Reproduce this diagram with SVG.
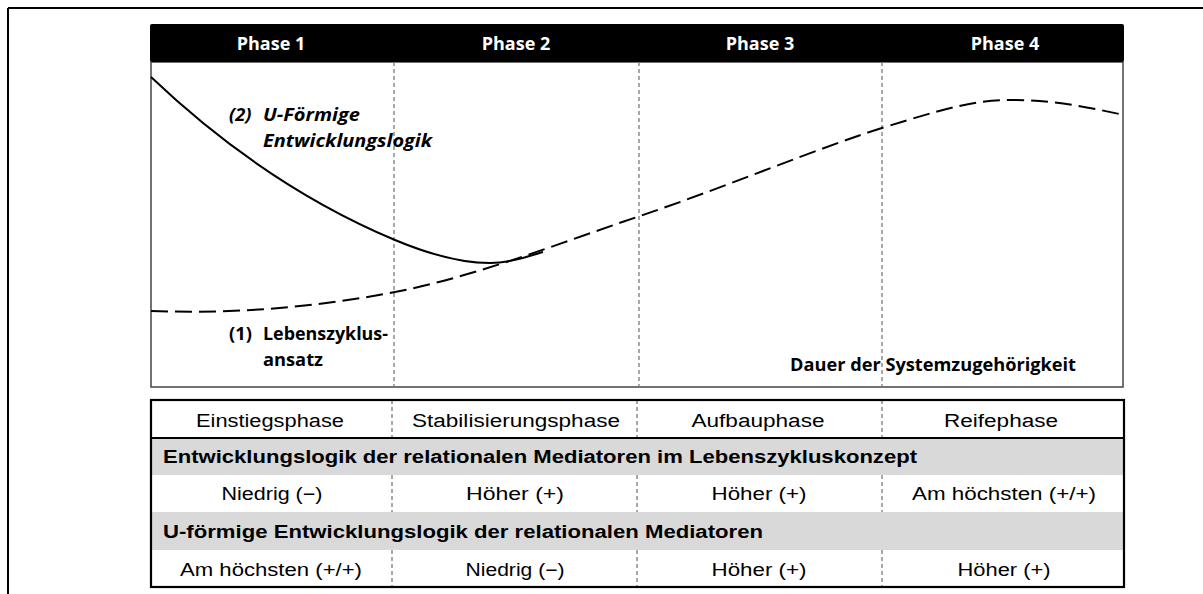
<svg xmlns="http://www.w3.org/2000/svg" width="1203" height="594" viewBox="0 0 1203 594">
<style>
.hdr{font-family:"Open Sans","Liberation Sans",sans-serif;font-weight:bold;font-size:18px;fill:#fff;text-anchor:middle}
.lbl{font-family:"Open Sans","Liberation Sans",sans-serif;font-weight:bold;font-size:18.3px;fill:#000}
.it{font-style:italic}
.cell{font-family:"Liberation Sans",Arial,sans-serif;font-size:18px;fill:#000;text-anchor:middle}
.sec{font-family:"Liberation Sans",Arial,sans-serif;font-size:18px;font-weight:bold;fill:#000}
.div{stroke:#7a7a7a;stroke-width:1.3;stroke-dasharray:4 3;fill:none}
.gray{fill:#d9d9d9}
</style>
<rect width="1203" height="594" fill="#fff"/>
<g id="frame">
<path d="M8,8 H1203 M8,8 V594" stroke="#000" stroke-width="2" fill="none"/>
</g>
<g id="chart">
<rect x="151" y="62" width="972" height="325" fill="#fff" stroke="#444" stroke-width="1.5"/>
<line class="div" x1="394" y1="62" x2="394" y2="387"/>
<line class="div" x1="639" y1="62" x2="639" y2="387"/>
<line class="div" x1="882" y1="62" x2="882" y2="387"/>
</g>
<g id="header">
<rect x="150" y="24" width="974" height="38" rx="2" fill="#000"/>
<g id="phase1"><text class="hdr" x="271" y="50">Phase 1</text></g>
<g id="phase2"><text class="hdr" x="516" y="50">Phase 2</text></g>
<g id="phase3"><text class="hdr" x="760" y="50">Phase 3</text></g>
<g id="phase4"><text class="hdr" x="1005" y="50">Phase 4</text></g>
</g>
<g id="curves" fill="none" stroke="#000" stroke-width="2">
<path id="curve-u" d="M151,77 C232,154 314,206 395,240 C427,253.4 458,263 490,263 C508,263 525,257.5 543,252"/>
<path id="curve-life" stroke-dasharray="17 7" d="M151,311 C232,314 313.5,307.8 395,292 C476.5,276.2 558.8,243.3 640,216 C721.2,188.7 819.8,147.3 882,128 C944.2,108.7 972.7,100 1013,100 C1053,100 1087,107 1124,115"/>
</g>
<g id="label-u">
<text class="lbl it" x="229" y="121">(2)</text>
<text class="lbl it" x="263" y="121" textLength="97" lengthAdjust="spacingAndGlyphs">U-Förmige</text>
<text class="lbl it" x="263" y="147" textLength="169" lengthAdjust="spacingAndGlyphs">Entwicklungslogik</text>
</g>
<g id="label-life">
<text class="lbl" x="229" y="340">(1)</text>
<text class="lbl" x="263" y="340" textLength="125" lengthAdjust="spacingAndGlyphs">Lebenszyklus-</text>
<text class="lbl" x="263" y="366" textLength="60" lengthAdjust="spacingAndGlyphs">ansatz</text>
</g>
<g id="label-axis">
<text class="lbl" x="790" y="371" font-size="15" textLength="286" lengthAdjust="spacingAndGlyphs">Dauer der Systemzugehörigkeit</text>
</g>
<g id="table">
<rect class="gray" x="151" y="438" width="973" height="37"/>
<rect class="gray" x="151" y="512" width="973" height="38"/>
<g>
<line class="div" x1="392" y1="400" x2="392" y2="438"/>
<line class="div" x1="637" y1="400" x2="637" y2="438"/>
<line class="div" x1="882" y1="400" x2="882" y2="438"/>
<line class="div" x1="392" y1="475" x2="392" y2="512"/>
<line class="div" x1="637" y1="475" x2="637" y2="512"/>
<line class="div" x1="882" y1="475" x2="882" y2="512"/>
<line class="div" x1="392" y1="550" x2="392" y2="587"/>
<line class="div" x1="637" y1="550" x2="637" y2="587"/>
<line class="div" x1="882" y1="550" x2="882" y2="587"/>
</g>
<line x1="151" y1="438" x2="1124" y2="438" stroke="#000" stroke-width="2"/>
<rect x="151" y="400" width="973" height="187" fill="none" stroke="#000" stroke-width="2.2"/>
<g id="row-phases">
<text class="cell" x="270" y="427" textLength="148" lengthAdjust="spacingAndGlyphs">Einstiegsphase</text>
<text class="cell" x="516" y="427" textLength="208" lengthAdjust="spacingAndGlyphs">Stabilisierungsphase</text>
<text class="cell" x="758" y="427" textLength="133" lengthAdjust="spacingAndGlyphs">Aufbauphase</text>
<text class="cell" x="1001" y="427" textLength="114" lengthAdjust="spacingAndGlyphs">Reifephase</text>
</g>
<g id="row-sec1">
<text class="sec" x="163" y="463" textLength="754" lengthAdjust="spacingAndGlyphs">Entwicklungslogik der relationalen Mediatoren im Lebenszykluskonzept</text>
</g>
<g id="row-life">
<text class="cell" x="272" y="500" textLength="101" lengthAdjust="spacingAndGlyphs">Niedrig (−)</text>
<text class="cell" x="515" y="500" textLength="98" lengthAdjust="spacingAndGlyphs">Höher (+)</text>
<text class="cell" x="759" y="500" textLength="95" lengthAdjust="spacingAndGlyphs">Höher (+)</text>
<text class="cell" x="1004" y="500" textLength="184" lengthAdjust="spacingAndGlyphs">Am höchsten (+/+)</text>
</g>
<g id="row-sec2">
<text class="sec" x="163" y="538" textLength="600" lengthAdjust="spacingAndGlyphs">U-förmige Entwicklungslogik der relationalen Mediatoren</text>
</g>
<g id="row-u">
<text class="cell" x="271" y="576" textLength="182" lengthAdjust="spacingAndGlyphs">Am höchsten (+/+)</text>
<text class="cell" x="515" y="576" textLength="99" lengthAdjust="spacingAndGlyphs">Niedrig (−)</text>
<text class="cell" x="759" y="576" textLength="95" lengthAdjust="spacingAndGlyphs">Höher (+)</text>
<text class="cell" x="1004" y="576" textLength="93" lengthAdjust="spacingAndGlyphs">Höher (+)</text>
</g>
</g>
</svg>
